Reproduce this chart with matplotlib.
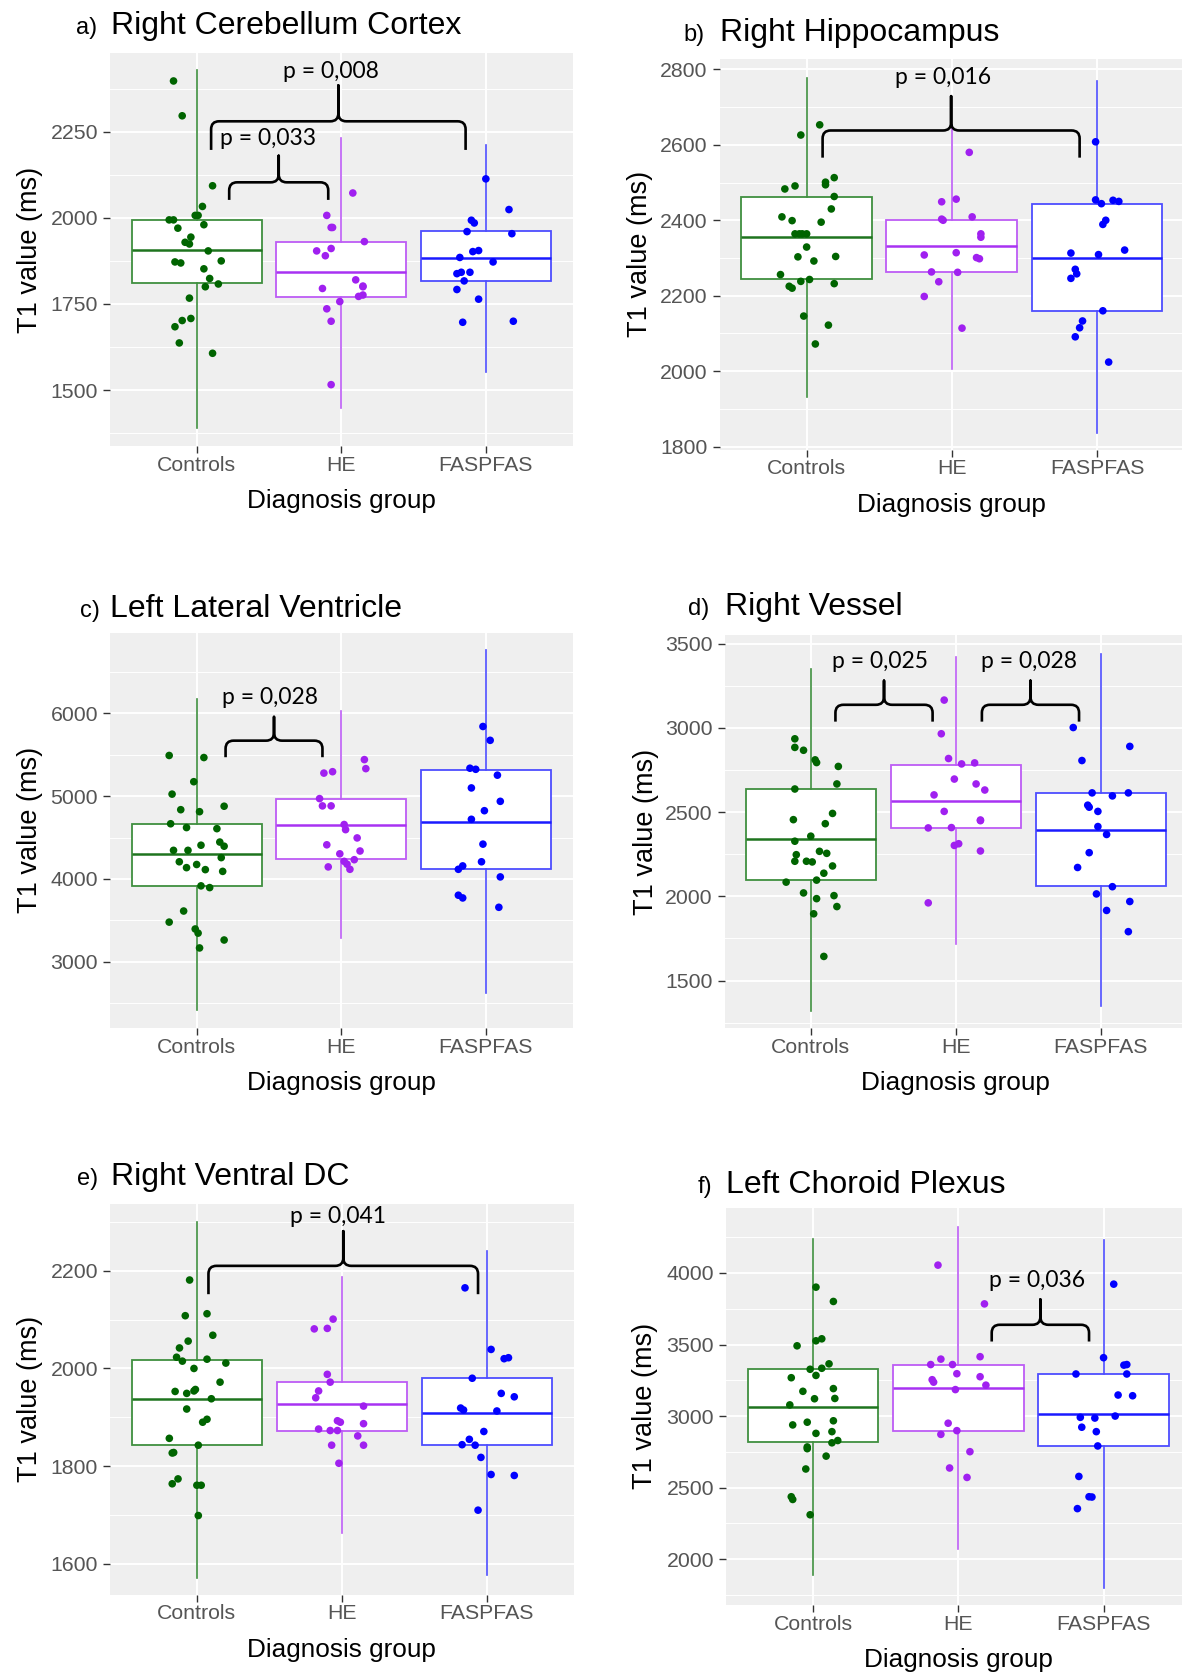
import matplotlib
matplotlib.use("Agg")
import matplotlib.pyplot as plt
from matplotlib.path import Path
from matplotlib.patches import PathPatch

W, H = 1182, 1672
DPI = 100

groups = ["Controls", "HE", "FASPFAS"]

# ---------------- Panel a: Right Cerebellum Cortex ----------------
a_ctrl_vals = [2397, 2296, 2093, 2033, 2007, 2007, 1994, 1994, 1980, 1970, 1944, 1929, 1924, 1904,
               1872, 1869, 1875, 1852, 1824, 1800, 1808, 1767, 1702, 1708, 1684, 1637, 1607]
a_ctrl_jit = [-0.16, -0.10, 0.11, 0.04, -0.01, 0.01, -0.19, -0.16, 0.05, -0.13, -0.04, -0.08, -0.05, 0.08,
              -0.15, -0.11, 0.17, 0.05, 0.09, 0.06, 0.15, -0.05, -0.10, -0.04, -0.15, -0.12, 0.11]
a_he_vals = [2072, 2007, 1972, 1972, 1931, 1904, 1911, 1890, 1820, 1802, 1800, 1795, 1772, 1776, 1757, 1736, 1700, 1516]
a_he_jit = [0.08, -0.10, -0.07, -0.06, 0.16, -0.17, -0.07, -0.11, 0.10, 0.15, 0.15, -0.13, 0.12, 0.15, -0.01, -0.10, -0.07, -0.07]
a_fas_vals = [2113, 2024, 1993, 1985, 1960, 1954, 1902, 1905, 1885, 1872, 1838, 1842, 1842, 1817, 1792, 1764, 1697, 1700]
a_fas_jit = [0.00, 0.16, -0.10, -0.08, -0.13, 0.18, -0.09, -0.05, -0.18, 0.05, -0.20, -0.17, -0.11, -0.15, -0.20, -0.05, -0.16, 0.19]
a_q1 = [1810, 1771, 1818]
a_med = [1908, 1842, 1883]
a_q3 = [1994, 1931, 1961]
a_lo = [1390, 1449, 1552]
a_hi = [2428, 2233, 2212]
a_yticks = [1500, 1750, 2000, 2250]
a_ylim = (1338, 2477)
a_brackets = [(1.225, 1.91, 2052, 2103, 2180, "p = 0,033", 1.49, 2210),
              (1.10, 2.86, 2197, 2280, 2384, "p = 0,008", 1.93, 2406)]

# ---------------- Panel b: Right Hippocampus ----------------
b_ctrl_vals = [2653, 2626, 2513, 2501, 2494, 2491, 2483, 2463, 2430, 2409, 2399, 2395, 2364, 2364, 2364,
               2364, 2329, 2303, 2304, 2292, 2256, 2243, 2238, 2232, 2225, 2220, 2146, 2122, 2072]
b_ctrl_jit = [0.09, -0.04, 0.19, 0.13, 0.13, -0.08, -0.15, 0.19, 0.17, -0.17, -0.10, 0.10, -0.08, -0.05, -0.03,
              0.00, 0.00, -0.06, 0.20, 0.05, -0.18, 0.02, -0.04, 0.19, -0.12, -0.10, -0.02, 0.15, 0.06]
b_he_vals = [2580, 2456, 2449, 2409, 2403, 2400, 2364, 2355, 2314, 2308, 2301, 2298, 2263, 2262, 2237, 2198, 2114]
b_he_jit = [0.12, 0.03, -0.07, 0.14, -0.07, -0.06, 0.20, 0.20, 0.03, -0.19, 0.17, 0.19, -0.14, 0.04, -0.09, -0.19, 0.07]
b_fas_vals = [2608, 2454, 2444, 2453, 2450, 2400, 2389, 2313, 2309, 2321, 2270, 2258, 2246, 2160, 2133, 2115, 2091, 2024]
b_fas_jit = [-0.01, -0.01, 0.03, 0.11, 0.15, 0.06, 0.04, -0.18, 0.01, 0.19, -0.15, -0.14, -0.18, 0.04, -0.10, -0.12, -0.15, 0.08]
b_q1 = [2243, 2262, 2160]
b_med = [2355, 2331, 2301]
b_q3 = [2461, 2402, 2443]
b_lo = [1932, 2005, 1835]
b_hi = [2777, 2650, 2768]
b_yticks = [1800, 2000, 2200, 2400, 2600, 2800]
b_ylim = (1792, 2827)
b_brackets = [(1.11, 2.88, 2566, 2638, 2729, "p = 0,016", 1.94, 2761)]

# ---------------- Panel c: Left Lateral Ventricle ----------------
c_ctrl_vals = [5492, 5467, 5175, 5025, 4837, 4813, 4879, 4667, 4621, 4608, 4446, 4396, 4408, 4346, 4346,
               4258, 4208, 4175, 4137, 4113, 4092, 3917, 3896, 3613, 3479, 3396, 3346, 3263, 3167]
c_ctrl_jit = [-0.19, 0.05, -0.02, -0.17, -0.11, 0.02, 0.19, -0.18, -0.07, 0.14, 0.16, 0.19, 0.03, -0.16, -0.06,
              0.17, -0.12, 0.00, -0.07, 0.06, 0.18, 0.03, 0.09, -0.09, -0.19, -0.01, 0.01, 0.19, 0.02]
c_he_vals = [5442, 5333, 5279, 5296, 4971, 4883, 4883, 4658, 4596, 4496, 4413, 4338, 4304, 4233, 4213, 4179, 4117, 4146]
c_he_jit = [0.16, 0.17, -0.12, -0.06, -0.15, -0.13, -0.07, 0.02, 0.03, 0.11, -0.10, 0.13, -0.01, 0.09, 0.02, 0.04, 0.06, -0.09]
c_fas_vals = [5842, 5675, 5338, 5325, 5254, 5100, 4938, 4825, 4721, 4421, 4208, 4158, 4117, 4025, 3804, 3771, 3658]
c_fas_jit = [-0.02, 0.03, -0.11, -0.07, 0.08, -0.10, 0.10, -0.01, -0.10, -0.02, -0.03, -0.16, -0.19, 0.10, -0.19, -0.16, 0.09]
c_q1 = [3921, 4237, 4121]
c_med = [4300, 4654, 4692]
c_q3 = [4667, 4971, 5317]
c_lo = [2417, 3292, 2625]
c_hi = [6171, 6029, 6767]
c_yticks = [3000, 4000, 5000, 6000]
c_ylim = (2200, 6975)
c_brackets = [(1.20, 1.87, 5471, 5671, 5958, "p = 0,028", 1.505, 6117)]

# ---------------- Panel d: Right Vessel ----------------
d_ctrl_vals = [2935, 2884, 2867, 2810, 2794, 2771, 2667, 2637, 2492, 2455, 2431, 2357, 2327, 2267, 2255,
               2247, 2208, 2208, 2204, 2180, 2137, 2096, 2084, 2020, 2004, 1986, 1939, 1896, 1643]
d_ctrl_jit = [-0.11, -0.11, -0.05, 0.03, 0.04, 0.19, 0.18, -0.11, 0.15, -0.12, 0.10, 0.00, -0.11, 0.06, 0.11,
              -0.10, -0.11, -0.03, 0.01, 0.15, 0.09, 0.04, -0.17, -0.05, 0.16, 0.04, 0.18, 0.02, 0.09]
d_he_vals = [3165, 2965, 2818, 2786, 2792, 2696, 2667, 2631, 2602, 2504, 2453, 2449, 2406, 2408, 2302, 2312, 2269, 1961]
d_he_jit = [-0.08, -0.10, -0.05, 0.04, 0.13, -0.01, 0.14, 0.20, -0.15, -0.08, 0.17, 0.17, -0.19, -0.03, -0.01, 0.02, 0.17, -0.19]
d_fas_vals = [3002, 2890, 2806, 2614, 2596, 2614, 2541, 2529, 2504, 2414, 2367, 2259, 2171, 2057, 2014, 1969, 1916, 1790]
d_fas_jit = [-0.19, 0.20, -0.13, -0.06, 0.08, 0.19, -0.09, -0.08, -0.02, -0.02, 0.04, -0.08, -0.16, 0.08, -0.03, 0.20, 0.04, 0.19]
d_q1 = [2096, 2406, 2059]
d_med = [2341, 2567, 2394]
d_q3 = [2637, 2782, 2612]
d_lo = [1320, 1714, 1347]
d_hi = [3351, 3418, 3439]
d_yticks = [1500, 2000, 2500, 3000, 3500]
d_ylim = (1218, 3549)
d_brackets = [(1.17, 1.84, 3037, 3137, 3280, "p = 0,025", 1.477, 3357),
              (2.18, 2.85, 3037, 3137, 3280, "p = 0,028", 2.508, 3357)]

# ---------------- Panel e: Right Ventral DC ----------------
e_ctrl_vals = [2181, 2112, 2108, 2068, 2056, 2042, 2023, 2015, 2019, 2011, 2000, 1972, 1953, 1949, 1954,
               1957, 1938, 1917, 1890, 1896, 1857, 1827, 1828, 1843, 1764, 1774, 1761, 1761, 1699]
e_ctrl_jit = [-0.05, 0.07, -0.08, 0.11, -0.06, -0.12, -0.14, -0.10, 0.07, 0.20, -0.02, 0.16, -0.15, -0.07, -0.02,
              -0.01, 0.10, -0.07, 0.04, 0.07, -0.19, -0.17, -0.16, 0.01, -0.17, -0.13, 0.00, 0.03, 0.01]
e_he_vals = [2101, 2081, 2082, 1988, 1972, 1954, 1940, 1923, 1893, 1890, 1887, 1876, 1873, 1873, 1862, 1843, 1843, 1806]
e_he_jit = [-0.06, -0.19, -0.10, -0.10, -0.08, -0.16, -0.18, 0.15, -0.03, -0.01, 0.15, -0.16, -0.08, -0.03, 0.11, -0.07, 0.15, -0.02]
e_fas_vals = [2165, 2039, 2020, 2022, 1980, 1949, 1942, 1919, 1915, 1913, 1871, 1855, 1844, 1843, 1818, 1783, 1781, 1710]
e_fas_jit = [-0.15, 0.03, 0.12, 0.15, -0.10, 0.10, 0.19, -0.18, -0.16, 0.07, -0.02, -0.12, -0.17, -0.08, -0.04, 0.03, 0.19, -0.06]
e_q1 = [1843, 1872, 1843]
e_med = [1937, 1928, 1909]
e_q3 = [2018, 1972, 1980]
e_lo = [1572, 1664, 1578]
e_hi = [2300, 2188, 2241]
e_yticks = [1600, 1800, 2000, 2200]
e_ylim = (1537, 2337)
e_brackets = [(1.08, 2.94, 2152, 2210, 2281, "p = 0,041", 1.977, 2297)]

# ---------------- Panel f: Left Choroid Plexus ----------------
f_ctrl_vals = [3901, 3801, 3491, 3526, 3540, 3365, 3327, 3334, 3284, 3268, 3192, 3173, 3121, 3123, 3078,
               2938, 2957, 2967, 2879, 2891, 2829, 2813, 2784, 2772, 2720, 2630, 2436, 2417, 2310]
f_ctrl_jit = [0.02, 0.14, -0.11, 0.02, 0.06, 0.11, -0.02, 0.06, 0.02, -0.15, 0.14, -0.07, 0.01, 0.15, -0.16,
              -0.14, -0.04, 0.14, 0.02, 0.13, 0.17, 0.13, -0.04, -0.04, 0.09, -0.05, -0.15, -0.14, -0.02]
f_he_vals = [4055, 3784, 3398, 3415, 3360, 3360, 3296, 3254, 3237, 3275, 3216, 3185, 2950, 2898, 2872, 2751, 2637, 2571]
f_he_jit = [-0.14, 0.18, -0.12, 0.15, -0.19, -0.04, -0.01, -0.18, -0.17, 0.15, 0.19, -0.02, -0.07, -0.01, -0.12, 0.08, -0.06, 0.06]
f_fas_vals = [3922, 3408, 3356, 3360, 3294, 3294, 3147, 3142, 2991, 2986, 3000, 2922, 2891, 2791, 2578, 2436, 2434, 2353]
f_fas_jit = [0.07, 0.00, 0.14, 0.16, -0.19, 0.16, 0.10, 0.20, -0.16, -0.06, 0.08, -0.15, -0.05, -0.04, -0.17, -0.10, -0.08, -0.18]
f_q1 = [2820, 2896, 2791]
f_med = [3066, 3194, 3017]
f_q3 = [3327, 3358, 3294]
f_lo = [1891, 2069, 1801]
f_hi = [4237, 4320, 4230]
f_yticks = [2000, 2500, 3000, 3500, 4000]
f_ylim = (1680, 4455)
f_brackets = [(2.23, 2.90, 3521, 3638, 3815, "p = 0,036", 2.54, 3901)]

titles = {"a": "Right Cerebellum Cortex", "b": "Right Hippocampus", "c": "Left Lateral Ventricle",
          "d": "Right Vessel", "e": "Right Ventral DC", "f": "Left Choroid Plexus"}

# ---------------- layout (pixels) ----------------
layout = {
    "a": dict(ax=(109.9, 572.6, 53.4, 446.0), xlim=(0.4, 3.6), title=(111, 33.8), letter=76, ylab=36.7),
    "b": dict(ax=(719.5, 1182, 59.2, 449.6), xlim=(0.4, 3.585), title=(720, 40.6), letter=683, ylab=646.6),
    "c": dict(ax=(109.9, 572.6, 632.7, 1028.0), xlim=(0.4, 3.6), title=(110, 617.2), letter=80, ylab=36.7),
    "d": dict(ax=(724.8, 1182, 635.4, 1028.0), xlim=(0.407, 3.56), title=(725, 615.5), letter=688, ylab=653.4),
    "e": dict(ax=(109.9, 573.7, 1203.8, 1594.7), xlim=(0.4, 3.6), title=(111, 1184.8), letter=77, ylab=36.7),
    "f": dict(ax=(725.9, 1182, 1207.9, 1604.9), xlim=(0.40, 3.54), title=(726, 1192.6), letter=698, ylab=652.3),
}

pt_colors = ["#006400", "#A020F0", "#0000FF"]
box_colors = ["#3F8F3F", "#BD5CF5", "#4D4DFF"]
med_colors = ["#1E741E", "#A832F2", "#1A1AFF"]

SANS = ["Liberation Sans", "DejaVu Sans"]
plt.rcParams["font.family"] = SANS

fig = plt.figure(figsize=(W / DPI, H / DPI), dpi=DPI)
fig.patch.set_facecolor("white")


def fx(x):
    return x / W


def fy(y):
    return 1 - y / H


def add_brace(ax, x1, x2, y_end, y_bar, y_peak, r_px=8.0):
    pos = ax.get_position()
    xl, yl = ax.get_xlim(), ax.get_ylim()
    rx = r_px * (xl[1] - xl[0]) / (pos.width * W)
    ry = r_px * (yl[1] - yl[0]) / (pos.height * H)
    xm = 0.5 * (x1 + x2)
    verts = [(x1, y_end), (x1, y_bar - ry), (x1, y_bar), (x1 + rx, y_bar),
             (xm - rx, y_bar), (xm, y_bar), (xm, y_bar + ry), (xm, y_peak),
             (xm, y_bar + ry), (xm, y_bar), (xm + rx, y_bar),
             (x2 - rx, y_bar), (x2, y_bar), (x2, y_bar - ry), (x2, y_end)]
    codes = [Path.MOVETO, Path.LINETO, Path.CURVE3, Path.CURVE3,
             Path.LINETO, Path.CURVE3, Path.CURVE3, Path.LINETO,
             Path.LINETO, Path.CURVE3, Path.CURVE3,
             Path.LINETO, Path.CURVE3, Path.CURVE3, Path.LINETO]
    ax.add_patch(PathPatch(Path(verts, codes), facecolor="none", edgecolor="black",
                           lw=1.9, capstyle="butt", joinstyle="round", zorder=6, clip_on=False))


def draw_panel(key, vals, jits, q1, med, q3, lo, hi, yticks, ylim, brackets):
    L = layout[key]
    x0, x1, yt, yb = L["ax"]
    ax = fig.add_axes([fx(x0), fy(yb), (x1 - x0) / W, (yb - yt) / H])
    ax.set_xlim(*L["xlim"])
    ax.set_ylim(*ylim)
    ax.set_facecolor("#EFEFEF")
    for s in ax.spines.values():
        s.set_visible(False)
    ax.set_axisbelow(True)
    ax.set_xticks([1, 2, 3])
    ax.set_xticklabels(groups)
    ax.set_yticks(yticks)
    ax.set_yticklabels([str(t) for t in yticks])
    step = yticks[1] - yticks[0]
    minors = [t + step / 2 for t in [yticks[0] - step] + list(yticks)]
    minors = [m for m in minors if ylim[0] < m < ylim[1]]
    ax.set_yticks(minors, minor=True)
    ax.tick_params(axis="y", which="minor", length=0)
    ax.tick_params(axis="y", which="major", length=5, width=1.0, color="#333333", pad=3.6,
                   labelsize=15.3, labelcolor="#555555")
    ax.tick_params(axis="x", which="major", length=5, width=1.0, color="#333333", pad=2.0,
                   labelsize=15.3, labelcolor="#555555")
    ax.grid(which="major", color="white", lw=1.4)
    ax.grid(which="minor", axis="y", color="white", lw=0.7)

    for i in range(3):
        st = dict(med=med[i], q1=q1[i], q3=q3[i], whislo=lo[i], whishi=hi[i], fliers=[])
        ax.bxp([st], positions=[i + 1], widths=0.9, patch_artist=True,
               showcaps=False, showfliers=False,
               boxprops=dict(facecolor="white", edgecolor=box_colors[i], lw=1.3),
               whiskerprops=dict(color=box_colors[i], lw=1.2),
               medianprops=dict(color=med_colors[i], lw=1.8),
               manage_ticks=False, zorder=2)
    for i in range(3):
        xs = [i + 1 + j for j in jits[i]]
        ax.scatter(xs, vals[i], s=30, color=pt_colors[i], edgecolors="none", zorder=4)

    for (bx1, bx2, ye, yb_, yp, label, tx, ty) in brackets:
        add_brace(ax, bx1, bx2, ye, yb_, yp)
        ax.text(tx, ty, label, ha="center", va="baseline", fontsize=16.5,
                family=["Lato", "DejaVu Sans"], color="black", zorder=7, clip_on=False)

    tx0, tby = L["title"]
    fig.text(fx(tx0), fy(tby), titles[key], ha="left", va="baseline", fontsize=23, color="black")
    fig.text(fx(L["letter"]), fy(tby), key + ")", ha="left", va="baseline", fontsize=17, color="black")
    fig.text(fx(L["ylab"]), fy((yt + yb) / 2), "T1 value (ms)", rotation=90, rotation_mode="anchor",
             ha="center", va="baseline", fontsize=19.5, color="black")
    xc = x0 + (2 - L["xlim"][0]) / (L["xlim"][1] - L["xlim"][0]) * (x1 - x0)
    fig.text(fx(xc), fy(yb + 62), "Diagnosis group", ha="center", va="baseline", fontsize=18.8, color="black")
    return ax


draw_panel("a", [a_ctrl_vals, a_he_vals, a_fas_vals], [a_ctrl_jit, a_he_jit, a_fas_jit],
           a_q1, a_med, a_q3, a_lo, a_hi, a_yticks, a_ylim, a_brackets)
draw_panel("b", [b_ctrl_vals, b_he_vals, b_fas_vals], [b_ctrl_jit, b_he_jit, b_fas_jit],
           b_q1, b_med, b_q3, b_lo, b_hi, b_yticks, b_ylim, b_brackets)
draw_panel("c", [c_ctrl_vals, c_he_vals, c_fas_vals], [c_ctrl_jit, c_he_jit, c_fas_jit],
           c_q1, c_med, c_q3, c_lo, c_hi, c_yticks, c_ylim, c_brackets)
draw_panel("d", [d_ctrl_vals, d_he_vals, d_fas_vals], [d_ctrl_jit, d_he_jit, d_fas_jit],
           d_q1, d_med, d_q3, d_lo, d_hi, d_yticks, d_ylim, d_brackets)
draw_panel("e", [e_ctrl_vals, e_he_vals, e_fas_vals], [e_ctrl_jit, e_he_jit, e_fas_jit],
           e_q1, e_med, e_q3, e_lo, e_hi, e_yticks, e_ylim, e_brackets)
draw_panel("f", [f_ctrl_vals, f_he_vals, f_fas_vals], [f_ctrl_jit, f_he_jit, f_fas_jit],
           f_q1, f_med, f_q3, f_lo, f_hi, f_yticks, f_ylim, f_brackets)

fig.savefig("out.png", dpi=DPI)
